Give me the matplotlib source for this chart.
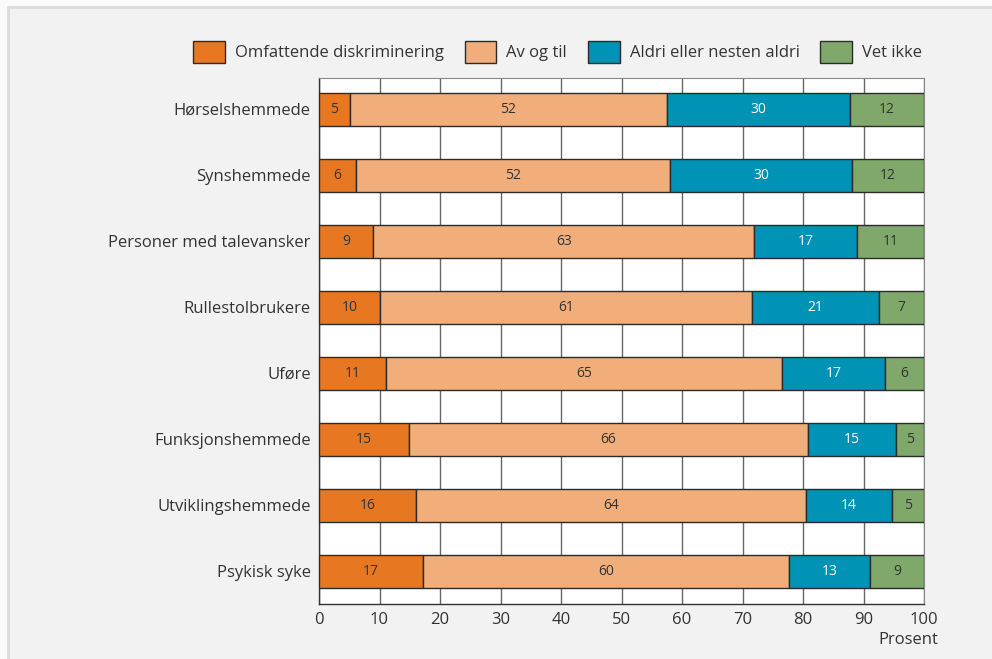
import matplotlib
matplotlib.use("Agg")
import matplotlib.pyplot as plt
from matplotlib.patches import Rectangle
import numpy as np

categories = ["Hørselshemmede", "Synshemmede", "Personer med talevansker",
              "Rullestolbrukere", "Uføre", "Funksjonshemmede",
              "Utviklingshemmede", "Psykisk syke"]
series_names = ["Omfattende diskriminering", "Av og til",
                "Aldri eller nesten aldri", "Vet ikke"]
omfattende = [5.1, 6.1, 9.0, 10.1, 11.1, 14.9, 16.1, 17.2]
av_og_til = [52.4, 51.9, 62.9, 61.4, 65.4, 65.9, 64.4, 60.5]
aldri = [30.2, 30.1, 17.1, 21.1, 17.1, 14.6, 14.2, 13.3]
vet_ikke = [12.3, 11.9, 11.0, 7.4, 6.4, 4.6, 5.3, 9.0]
x_ticks = [0, 10, 20, 30, 40, 50, 60, 70, 80, 90, 100]

colors = ["#E87722", "#F1AE7B", "#0093B5", "#80A86B"]
text_colors = ["#333333", "#333333", "white", "#333333"]

plt.rcParams['font.family'] = ['Open Sans', 'DejaVu Sans']

W, H = 992, 659
fig = plt.figure(figsize=(9.92, 6.59), dpi=100, facecolor="#fafafa")
fig.patches.append(Rectangle((8/W, -0.05), 1.2, 1 - 7/H + 0.05,
                             transform=fig.transFigure, facecolor="#f2f2f2",
                             edgecolor="#dcdcdc", linewidth=2, zorder=-10))
ax = fig.add_axes([319/W, 1-604/H, (924-319)/W, (604-78)/H])
ax.set_facecolor("white")

series = [omfattende, av_og_til, aldri, vet_ikke]
y = np.arange(len(categories))
left = np.zeros(len(categories))
handles = []
for vals, name, c, tc in zip(series, series_names, colors, text_colors):
    vals = np.array(vals)
    b = ax.barh(y, vals, left=left, height=0.5, color=c, edgecolor="#2b2b2b",
                linewidth=1.0, label=name, zorder=3)
    handles.append(b)
    for yi, l, v in zip(y, left, vals):
        ax.text(l + v/2, yi, f"{round(v)}", ha="center", va="center",
                color=tc, fontsize=10, zorder=4)
    left = left + vals

ax.set_xlim(0, 100)
ax.set_ylim(len(categories) - 0.5, -0.47)
ax.set_xticks(x_ticks)
ax.set_xticklabels([str(t) for t in x_ticks], fontsize=12, color="#333333")
ax.set_yticks(y)
ax.set_yticklabels(categories, fontsize=12, color="#333333")
ax.tick_params(axis="both", length=0, pad=6)
ax.xaxis.grid(True, color="#666666", linewidth=1.0, zorder=0)
ax.yaxis.grid(False)
ax.set_axisbelow(True)
for s in ["top", "right"]:
    ax.spines[s].set_color("#888888")
for s in ["left", "bottom"]:
    ax.spines[s].set_color("#333333")
    ax.spines[s].set_linewidth(1.0)

fig.text(908/W, 1-640/H, "Prosent", ha="center", va="center",
         fontsize=12, color="#333333")

leg = fig.legend(handles=handles, labels=series_names, loc="center right",
                 bbox_to_anchor=(937/W, 1-52/H), ncol=4, frameon=False,
                 fontsize=12, handlelength=1.9, handleheight=1.6,
                 columnspacing=1.25, handletextpad=0.6)
for t in leg.get_texts():
    t.set_color("#333333")

fig.savefig("out.png", dpi=100, facecolor=fig.get_facecolor())
